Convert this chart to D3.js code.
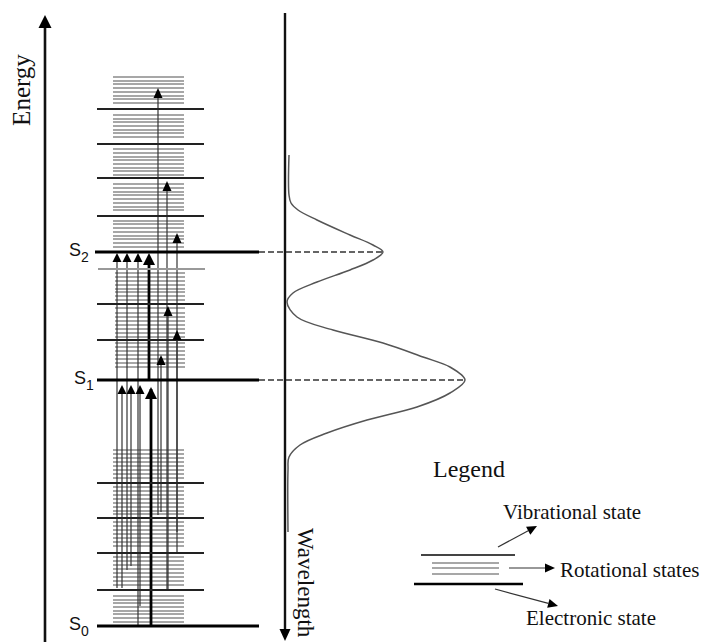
<!DOCTYPE html>
<html><head><meta charset="utf-8">
<script src="https://cdn.jsdelivr.net/npm/d3@7"></script>
<style>html,body{margin:0;padding:0;background:#fff;} svg{display:block;}</style>
</head><body>
<svg id="c" width="706" height="642"></svg>
<script>
// ---------------- data ----------------
const stateNames = ["S0", "S1", "S2"];
const stateEnergies = [0, 246, 374];
const vibrationalLevels = [36, 73, 108, 143, 286, 322, 410, 448, 482, 517];
const faintVibrationalLevels = [357];
const rotationalS0 = [4, 8, 12, 15, 19, 23, 26, 30, 41, 45, 49, 53, 57, 61, 65, 69,
  80, 84, 88, 92, 96, 100, 104, 112, 115, 119, 123, 127, 131, 135, 139,
  148, 152, 156, 160, 164, 168, 172, 176];
const rotationalS1 = [259, 263, 267, 271, 275, 279, 283, 289, 293, 297, 301, 305, 309, 313, 318,
  326, 330, 334, 337, 341, 345, 349, 353];
const rotationalS2 = [379, 383, 387, 390, 394, 398, 402, 405, 416, 419, 423, 427, 431, 434, 438, 442,
  451, 455, 458, 462, 466, 469, 473, 477, 489, 493, 496, 500, 504, 507, 511,
  523, 527, 530, 534, 538, 542, 545, 549];
// absorption S0 -> S1
const s1AbsPos = [27, 36, 45, 56];
const s1AbsFrom = [38, 60, 20, 0];
const s1AbsTo = 241;
// absorption -> S2
const s2AbsPos = [22, 32, 43, 54];
const s2AbsFrom = [38, 56, 0, 246];
const s2AbsTo = 373;
// vibronic transitions
const vibPos = [63, 72, 82, 73, 82, 66];
const vibFrom = [111, 37, 94, 37, 74, 114];
const vibTo = [538, 445, 393, 320, 296, 271];
// absorption spectrum (energy, intensity)
const specEnergy = [471, 431, 423, 416, 406, 391, 381, 374, 366, 356, 344, 333, 324, 309, 296, 283, 269, 259, 246, 233, 219, 206, 193, 181, 169, 156, 94];
const specIntensity = [2, 2, 4, 11, 30, 63, 86, 96, 86, 63, 30, 6, 0, 10, 46, 96, 136, 163, 178, 163, 130, 80, 40, 13, 2, 1, 1];
const legendTitle = "Legend";
const legendItems = ["Vibrational state", "Rotational states", "Electronic state"];

// ---------------- scales ----------------
const svg = d3.select("#c");
const y = d3.scaleLinear().domain([0, 610]).range([626, 16]);
const xd = d3.scaleLinear().domain([0, 110]).range([95, 205]);
const xs = d3.scaleLinear().domain([0, 180]).range([287, 467]);

function tri(g, x, yt, w, h, dir, fill) {
  // dir: -1 up, +1 down
  g.append("path")
    .attr("d", `M${x},${yt} L${x - w / 2},${yt - dir * h} L${x + w / 2},${yt - dir * h} Z`)
    .attr("fill", fill || "#000");
}

const serif = "'Liberation Serif','Times New Roman',serif";

// Energy axis
svg.append("line").attr("x1", 45).attr("x2", 45).attr("y1", 642).attr("y2", 24)
  .attr("stroke", "#111").attr("stroke-width", 2.6);
tri(svg, 45, 15, 13, 13, -1, "#000");
svg.append("text").attr("transform", "translate(30,90) rotate(-90)")
  .attr("text-anchor", "middle").attr("font-family", serif).attr("font-size", 25)
  .attr("fill", "#111").text("Energy");

// rotational lines
const rot = svg.append("g").attr("stroke", "#8a8a8a").attr("stroke-width", 1.6);
rotationalS0.concat(rotationalS2).forEach(e => {
  rot.append("line").attr("x1", xd(18)).attr("x2", xd(89)).attr("y1", y(e)).attr("y2", y(e));
});
rotationalS1.forEach(e => {
  rot.append("line").attr("x1", xd(20)).attr("x2", xd(90)).attr("y1", y(e)).attr("y2", y(e));
});

// transitions: vertical lines
const tr = svg.append("g");
function vline(p, from, to, bold) {
  tr.append("line").attr("x1", xd(p)).attr("x2", xd(p)).attr("y1", y(from)).attr("y2", y(to) + 4)
    .attr("stroke", bold ? "#000" : "#333").attr("stroke-width", bold ? 2.8 : 1.2);
}
s1AbsPos.forEach((p, i) => vline(p, s1AbsFrom[i], s1AbsTo, i === 3));
s2AbsPos.forEach((p, i) => vline(p, s2AbsFrom[i], s2AbsTo, i === 3));
vibPos.forEach((p, i) => vline(p, vibFrom[i], vibTo[i], false));

// vibrational levels
const vib = svg.append("g");
vibrationalLevels.forEach(e => {
  vib.append("line").attr("x1", xd(2)).attr("x2", xd(109)).attr("y1", y(e)).attr("y2", y(e))
    .attr("stroke", "#222").attr("stroke-width", 2);
});
faintVibrationalLevels.forEach(e => {
  vib.append("line").attr("x1", xd(3)).attr("x2", xd(110)).attr("y1", y(e)).attr("y2", y(e))
    .attr("stroke", "#999").attr("stroke-width", 2);
});

// electronic states
const el = svg.append("g");
stateEnergies.forEach((e, i) => {
  el.append("line").attr("x1", xd(i === 2 ? 0 : 2)).attr("x2", xd(164)).attr("y1", y(e)).attr("y2", y(e))
    .attr("stroke", "#000").attr("stroke-width", 3);
  const t = el.append("text").attr("x", xd(i === 1 ? -21 : -26)).attr("y", y(e) + 4)
    .attr("font-family", "'Liberation Sans',Arial,sans-serif").attr("font-size", 18).attr("fill", "#111");
  t.append("tspan").text(stateNames[i][0]);
  t.append("tspan").attr("dy", 6).attr("font-size", 14).text(stateNames[i].slice(1));
});

// arrowheads
const ah = svg.append("g");
s1AbsPos.forEach((p, i) => i === 3 ? tri(ah, xd(p), y(s1AbsTo) + 2, 12, 12, -1) : tri(ah, xd(p), y(s1AbsTo), 9, 9, -1));
s2AbsPos.forEach((p, i) => i === 3 ? tri(ah, xd(p), y(s2AbsTo), 12, 12, -1) : tri(ah, xd(p), y(s2AbsTo), 9, 9, -1));
vibPos.forEach((p, i) => tri(ah, xd(p), y(vibTo[i]), 9, 10, -1));

// Wavelength axis
svg.append("line").attr("x1", 285).attr("x2", 285).attr("y1", 13).attr("y2", 632)
  .attr("stroke", "#111").attr("stroke-width", 2.4);
tri(svg, 285, 641, 11, 12, 1, "#000");
svg.append("text").attr("transform", "translate(298,528) rotate(90)")
  .attr("font-family", serif).attr("font-size", 23).attr("fill", "#111").text("Wavelength");

// spectrum
const specPts = specEnergy.map((e, i) => [xs(specIntensity[i]), y(e)]);
svg.append("path").attr("d", d3.line().curve(d3.curveCatmullRom.alpha(0.5))(specPts))
  .attr("fill", "none").attr("stroke", "#555").attr("stroke-width", 1.5);

// dashed projections to peaks
const peaks = [[246, 178], [374, 96]];
peaks.forEach(([e, inten]) => {
  svg.append("line").attr("x1", xd(164)).attr("x2", xs(inten)).attr("y1", y(e)).attr("y2", y(e))
    .attr("stroke", "#333").attr("stroke-width", 1.6).attr("stroke-dasharray", "6,3");
});

// Legend
const lg = svg.append("g");
lg.append("text").attr("x", 433).attr("y", 477).attr("font-family", serif).attr("font-size", 24)
  .attr("fill", "#111").text(legendTitle);
lg.append("line").attr("x1", 421).attr("x2", 515).attr("y1", 555).attr("y2", 555).attr("stroke", "#444").attr("stroke-width", 1.8);
[563, 568, 574].forEach(v => lg.append("line").attr("x1", 432).attr("x2", 499).attr("y1", v).attr("y2", v)
  .attr("stroke", "#8a8a8a").attr("stroke-width", 1.5));
lg.append("line").attr("x1", 414).attr("x2", 523).attr("y1", 584).attr("y2", 584).attr("stroke", "#000").attr("stroke-width", 2.6);
function larrow(x1, y1, x2, y2) {
  const a = Math.atan2(y2 - y1, x2 - x1), L = 10, W = 4.5;
  const bx = x2 - L * Math.cos(a), by = y2 - L * Math.sin(a);
  lg.append("line").attr("x1", x1).attr("y1", y1).attr("x2", bx).attr("y2", by).attr("stroke", "#333").attr("stroke-width", 1.2);
  lg.append("path").attr("d", `M${x2},${y2} L${bx - W * Math.sin(a)},${by + W * Math.cos(a)} L${bx + W * Math.sin(a)},${by - W * Math.cos(a)} Z`).attr("fill", "#000");
}
larrow(498, 547, 537, 526);
larrow(509, 568, 555, 568);
larrow(495, 589, 558, 606);
lg.append("text").attr("x", 503).attr("y", 519).attr("font-family", serif).attr("font-size", 21).attr("fill", "#111").text(legendItems[0]);
lg.append("text").attr("x", 560).attr("y", 577).attr("font-family", serif).attr("font-size", 21).attr("fill", "#111").text(legendItems[1]);
lg.append("text").attr("x", 526).attr("y", 625).attr("font-family", serif).attr("font-size", 21).attr("fill", "#111").text(legendItems[2]);
</script>
</body></html>
